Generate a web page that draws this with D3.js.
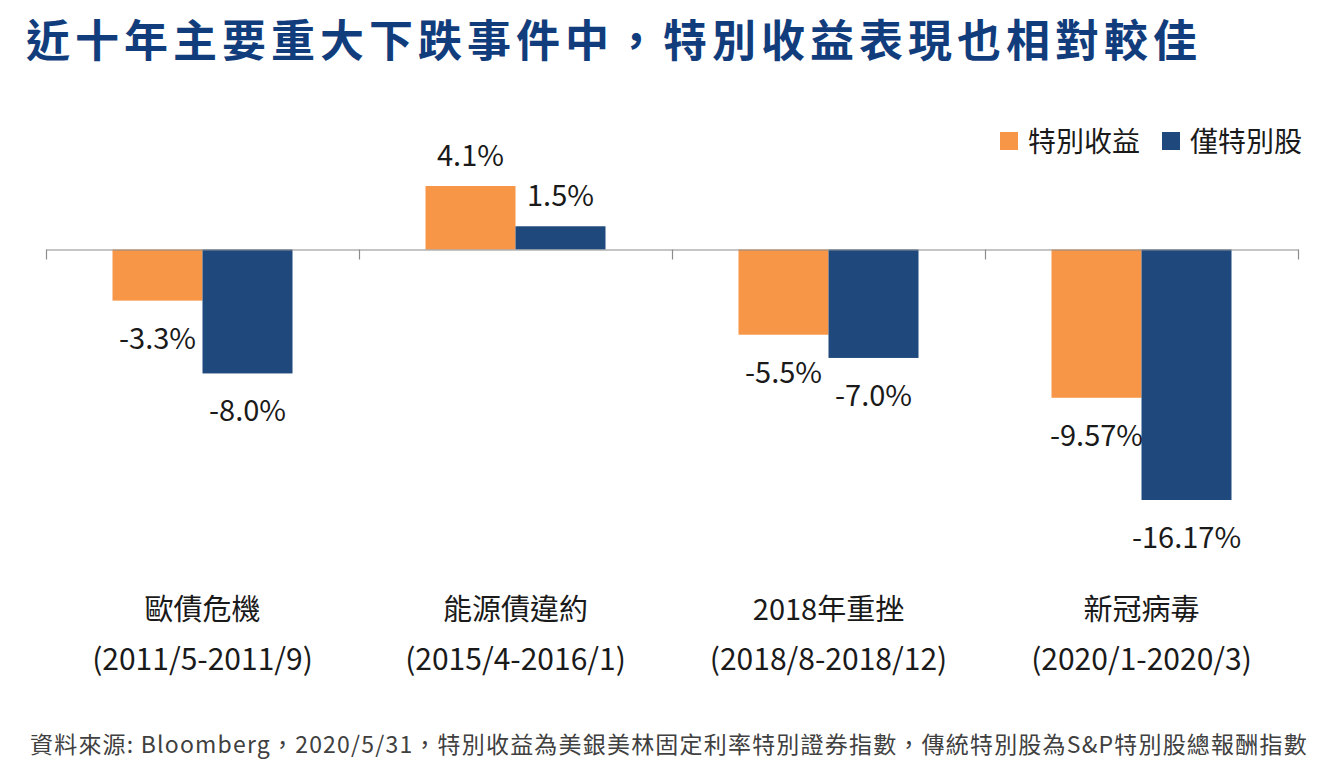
<!DOCTYPE html>
<html>
<head>
<meta charset="utf-8">
<script src="https://cdn.jsdelivr.net/npm/d3@7"></script>
<style>
  body { margin: 0; background: #fff; }
  text { font-family: "Noto Sans CJK TC", "Noto Sans", sans-serif; }
</style>
</head>
<body>
<script>
// data
var categories = ["歐債危機", "能源債違約", "2018年重挫", "新冠病毒"];
var periods = ["(2011/5-2011/9)", "(2015/4-2016/1)", "(2018/8-2018/12)", "(2020/1-2020/3)"];
var seriesNames = ["特別收益", "僅特別股"];
var preferredIncome = [-3.3, 4.1, -5.5, -9.57];
var preferredOnly = [-8.0, 1.5, -7.0, -16.17];
var valueLabels = [["-3.3%", "4.1%", "-5.5%", "-9.57%"], ["-8.0%", "1.5%", "-7.0%", "-16.17%"]];

var width = 1340, height = 767;
var margin = ({top: 186, right: 42, bottom: 267, left: 46});
var colors = ["#F79646", "#1F497D"];

var svg = d3.select("body").append("svg")
    .attr("width", width)
    .attr("height", height)
    .attr("viewBox", [0, 0, width, height]);

// title
svg.append("text")
    .attr("x", 26)
    .attr("y", 57)
    .attr("fill", "#123d7d")
    .attr("font-size", 44)
    .attr("font-weight", "bold")
    .attr("letter-spacing", 5)
    .text("近十年主要重大下跌事件中，特別收益表現也相對較佳");

x0 = d3.scaleBand()
    .domain(categories)
    .range([margin.left, width - margin.right])
    .paddingInner(0);

x1 = d3.scaleBand()
    .domain(seriesNames)
    .range([0, 180]);

var groupOffset = (x0.bandwidth() - 180) / 2;

y = d3.scaleLinear()
    .domain([d3.min(preferredOnly), d3.max(preferredIncome)])
    .range([height - margin.bottom, margin.top]);

var rows = [];
categories.forEach(function(c, i) {
  rows.push({cat: c, s: 0, v: preferredIncome[i], label: valueLabels[0][i]});
  rows.push({cat: c, s: 1, v: preferredOnly[i], label: valueLabels[1][i]});
});

// bars
svg.append("g")
  .selectAll("rect")
  .data(rows).enter()
  .append("rect")
    .attr("x", d => x0(d.cat) + groupOffset + x1(seriesNames[d.s]))
    .attr("y", d => y(Math.max(0, d.v)))
    .attr("width", x1.bandwidth())
    .attr("height", d => Math.abs(y(d.v) - y(0)))
    .attr("fill", d => colors[d.s]);

// baseline with ticks at group boundaries
var edge = d3.scaleLinear().domain([0, categories.length]).range([margin.left, width - margin.right]);
svg.append("g")
    .attr("transform", `translate(0,${y(0)})`)
    .call(d3.axisBottom(edge).ticks(categories.length).tickSize(10).tickSizeOuter(0).tickFormat(""))
    .call(g => g.selectAll("path,line").attr("stroke", "#8c8c8c").attr("stroke-width", 1.2));

// value labels
svg.append("g")
  .selectAll("text")
  .data(rows).enter()
  .append("text")
    .attr("x", d => x0(d.cat) + groupOffset + x1(seriesNames[d.s]) + x1.bandwidth() / 2)
    .attr("y", d => d.v < 0 ? y(d.v) + 48 : y(d.v) - 20)
    .attr("text-anchor", "middle")
    .attr("font-size", 29)
    .attr("fill", "#1a1a1a")
    .text(d => d.label);

// category labels
var catG = svg.append("g");
catG.selectAll(".cat")
  .data(categories).enter()
  .append("text")
    .attr("x", d => x0(d) + x0.bandwidth() / 2)
    .attr("y", 620)
    .attr("text-anchor", "middle")
    .attr("font-size", 29)
    .attr("fill", "#1a1a1a")
    .text(d => d);
catG.selectAll(".per")
  .data(periods).enter()
  .append("text")
    .attr("x", (d, i) => x0(categories[i]) + x0.bandwidth() / 2)
    .attr("y", 670)
    .attr("text-anchor", "middle")
    .attr("font-size", 30)
    .attr("fill", "#1a1a1a")
    .text(d => d);

// legend
var legendX = [1000, 1162];
var legend = svg.append("g")
  .selectAll("g")
  .data(seriesNames).enter()
  .append("g")
    .attr("transform", (d, i) => `translate(${legendX[i]},132)`);
legend.append("rect")
    .attr("width", 18).attr("height", 18)
    .attr("fill", (d, i) => colors[i]);
legend.append("text")
    .attr("x", 28).attr("y", 20)
    .attr("font-size", 28)
    .attr("fill", "#1a1a1a")
    .text(d => d);

// source note
svg.append("text")
    .attr("x", 30)
    .attr("y", 753)
    .attr("font-size", 23)
    .attr("letter-spacing", 1.2)
    .attr("fill", "#404040")
    .text("資料來源: Bloomberg，2020/5/31，特別收益為美銀美林固定利率特別證券指數，傳統特別股為S&P特別股總報酬指數");
</script>
</body>
</html>
